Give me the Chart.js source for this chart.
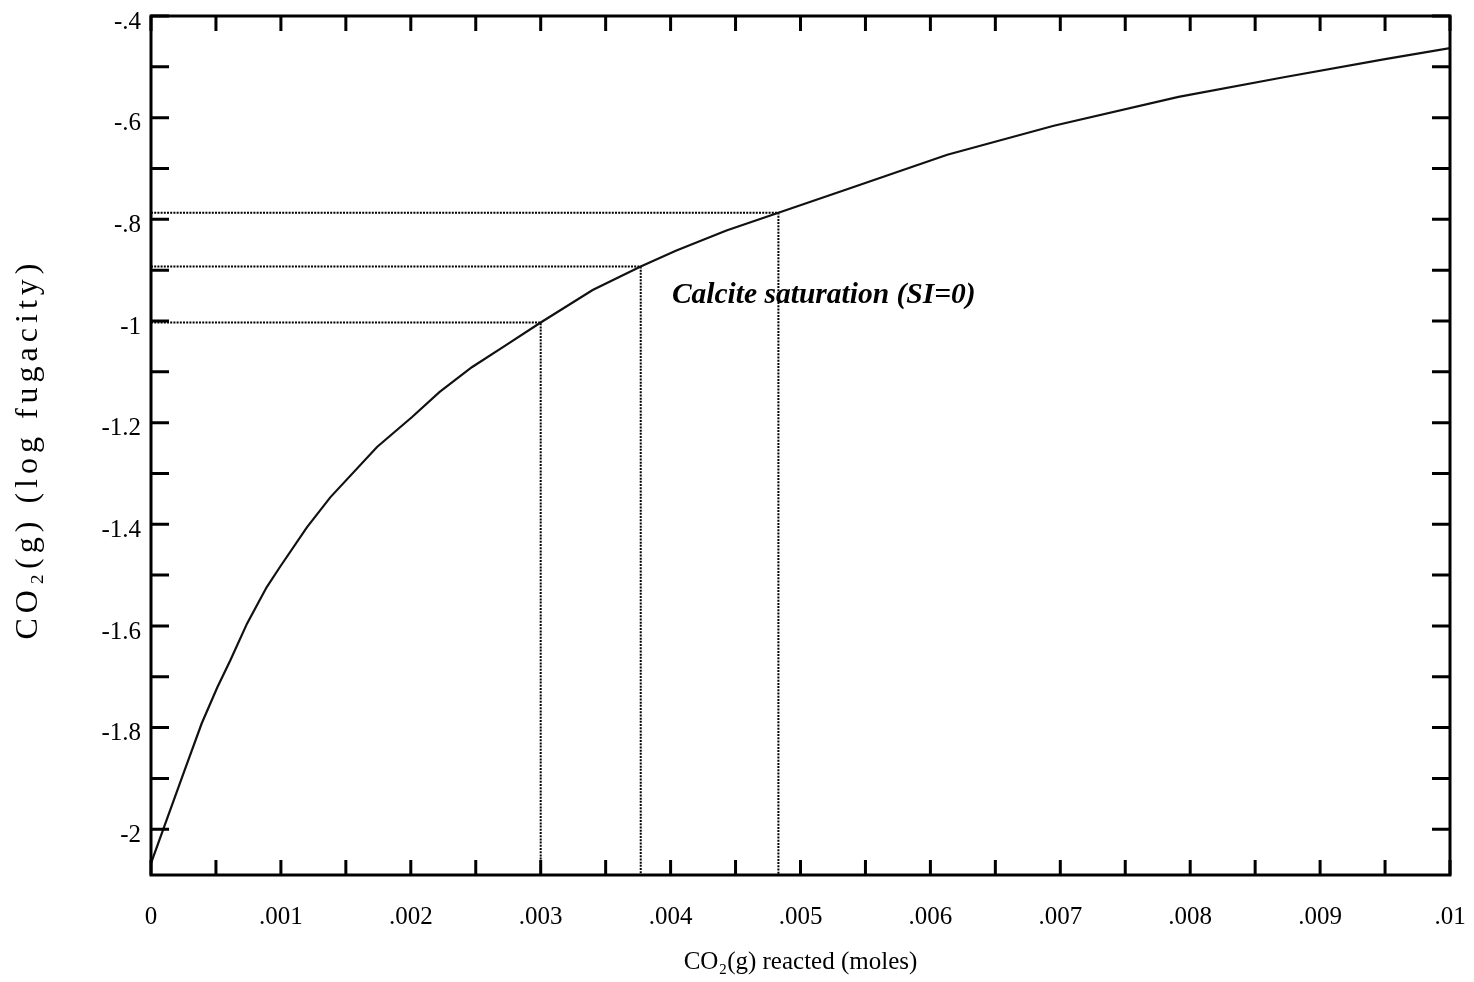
<!DOCTYPE html>
<html>
<head>
<meta charset="utf-8">
<title>CO2(g) log fugacity vs CO2(g) reacted</title>
<script src="https://cdn.jsdelivr.net/npm/chart.js@4.4.1/dist/chart.umd.min.js"></script>
<style>
  html, body { margin: 0; padding: 0; background: #fff; }
  canvas { display: block; }
</style>
</head>
<body>
<canvas id="chart" width="1474" height="982"></canvas>
<script>
// CO2(g) reacted (moles) along the reaction path
const co2Reacted = [0, 0.00011, 0.00025, 0.00039, 0.00051, 0.00061, 0.00074, 0.00089, 0.00099,
  0.0012, 0.00138, 0.00174, 0.00201, 0.00222, 0.00247, 0.00273, 0.003, 0.0034, 0.00377,
  0.00404, 0.00443, 0.00483, 0.00537, 0.00613, 0.00695, 0.00791, 0.00871, 0.0095, 0.01];
// CO2(g) log fugacity at each step
const logFugacity = [-2.067, -1.989, -1.890, -1.792, -1.721, -1.668, -1.595, -1.524, -1.485,
  -1.406, -1.347, -1.248, -1.189, -1.140, -1.091, -1.048, -1.003, -0.939, -0.893,
  -0.862, -0.822, -0.787, -0.740, -0.673, -0.616, -0.559, -0.521, -0.485, -0.463];

// drop lines to both axes
const markReacted = [0.003, 0.00377, 0.00483];
const markFugacity = [-1.003, -0.893, -0.787];

const xTickValues = [0, 0.0005, 0.001, 0.0015, 0.002, 0.0025, 0.003, 0.0035, 0.004, 0.0045,
  0.005, 0.0055, 0.006, 0.0065, 0.007, 0.0075, 0.008, 0.0085, 0.009, 0.0095, 0.01];
const xTickLabels = ['0', '', '.001', '', '.002', '', '.003', '', '.004', '',
  '.005', '', '.006', '', '.007', '', '.008', '', '.009', '', '.01'];
const yTickValues = [-0.4, -0.5, -0.6, -0.7, -0.8, -0.9, -1.0, -1.1, -1.2, -1.3, -1.4,
  -1.5, -1.6, -1.7, -1.8, -1.9, -2.0];
const yTickLabels = ['-.4', '', '-.6', '', '-.8', '', '-1', '', '-1.2', '', '-1.4',
  '', '-1.6', '', '-1.8', '', '-2'];

const xTitle = 'CO₂(g) reacted (moles)';
const yTitle = 'CO₂(g) (log fugacity)';
const noteText = 'Calcite saturation (SI=0)';

const X_MIN = 0, X_MAX = 0.01, Y_MIN = -2.09, Y_MAX = -0.4;
const SERIF = '"Liberation Serif", "Times New Roman", serif';

// box around the plot with inward ticks on all four sides
const frameTicks = {
  id: 'frameTicks',
  afterDraw(chart) {
    const { ctx, chartArea: a, scales: { x, y } } = chart;
    ctx.save();
    ctx.strokeStyle = '#000';
    ctx.lineWidth = 3;
    ctx.beginPath();
    xTickValues.forEach(v => {
      const px = x.getPixelForValue(v);
      ctx.moveTo(px, a.bottom); ctx.lineTo(px, a.bottom - 15);
      ctx.moveTo(px, a.top); ctx.lineTo(px, a.top + 15);
    });
    yTickValues.forEach(v => {
      const py = y.getPixelForValue(v);
      ctx.moveTo(a.left, py); ctx.lineTo(a.left + 18, py);
      ctx.moveTo(a.right, py); ctx.lineTo(a.right - 18, py);
    });
    ctx.stroke();
    ctx.strokeRect(a.left, a.top, a.width, a.height);
    ctx.restore();
  }
};

// rotated y title, letter-spaced, running up from below the middle
const yAxisTitle = {
  id: 'yAxisTitle',
  afterDraw(chart) {
    const { ctx, chartArea: a } = chart;
    ctx.save();
    ctx.translate(29, (a.top + a.bottom) / 2 + 194);
    ctx.rotate(-Math.PI / 2);
    ctx.font = '32px ' + SERIF;
    ctx.letterSpacing = '5px';
    ctx.fillStyle = '#000';
    ctx.textAlign = 'left';
    ctx.textBaseline = 'middle';
    ctx.fillText(yTitle, 0, 0);
    ctx.restore();
  }
};

const curveLabel = {
  id: 'curveLabel',
  afterDatasetsDraw(chart) {
    const { ctx, scales: { x, y } } = chart;
    ctx.save();
    ctx.font = 'italic bold 29.5px ' + SERIF;
    ctx.fillStyle = '#000';
    ctx.textAlign = 'left';
    ctx.textBaseline = 'middle';
    ctx.fillText(noteText, x.getPixelForValue(0.00401), y.getPixelForValue(-0.95));
    ctx.restore();
  }
};

const dropLines = markReacted.map((xv, i) => ({
  data: [{ x: X_MIN, y: markFugacity[i] }, { x: xv, y: markFugacity[i] }, { x: xv, y: Y_MIN }],
  borderColor: '#000',
  borderWidth: 2,
  borderDash: [2, 1.2],
  pointRadius: 0,
  showLine: true,
  tension: 0
}));

new Chart(document.getElementById('chart'), {
  type: 'scatter',
  data: {
    datasets: [{
      data: co2Reacted.map((v, i) => ({ x: v, y: logFugacity[i] })),
      borderColor: '#111',
      borderWidth: 2.2,
      pointRadius: 0,
      showLine: true,
      tension: 0
    }, ...dropLines]
  },
  options: {
    responsive: false,
    animation: false,
    devicePixelRatio: 1,
    layout: { padding: { top: 16, right: 24, left: 0, bottom: 0 } },
    plugins: { legend: { display: false }, tooltip: { enabled: false } },
    scales: {
      x: {
        type: 'linear',
        min: X_MIN,
        max: X_MAX,
        grid: { display: false, drawTicks: false },
        border: { display: false },
        afterBuildTicks: s => { s.ticks = xTickValues.map(v => ({ value: v })); },
        afterFit: s => { s.height = 107; s.paddingLeft = 0; s.paddingRight = 0; },
        ticks: {
          autoSkip: false,
          maxRotation: 0,
          padding: 27,
          color: '#000',
          font: { family: SERIF, size: 25 },
          callback: (v, i) => xTickLabels[i]
        },
        title: {
          display: true,
          text: xTitle,
          color: '#000',
          font: { family: SERIF, size: 25 },
          padding: { top: 5, bottom: 5 }
        }
      },
      y: {
        type: 'linear',
        min: Y_MIN,
        max: Y_MAX,
        grid: { display: false, drawTicks: false },
        border: { display: false },
        afterBuildTicks: s => { s.ticks = yTickValues.map(v => ({ value: v })); },
        afterFit: s => { s.width = 151; s.paddingTop = 0; s.paddingBottom = 0; },
        ticks: {
          autoSkip: false,
          padding: 10,
          labelOffset: 6,
          color: '#000',
          font: { family: SERIF, size: 25 },
          callback: (v, i) => yTickLabels[i]
        }
      }
    }
  },
  plugins: [frameTicks, yAxisTitle, curveLabel]
});
</script>
</body>
</html>
